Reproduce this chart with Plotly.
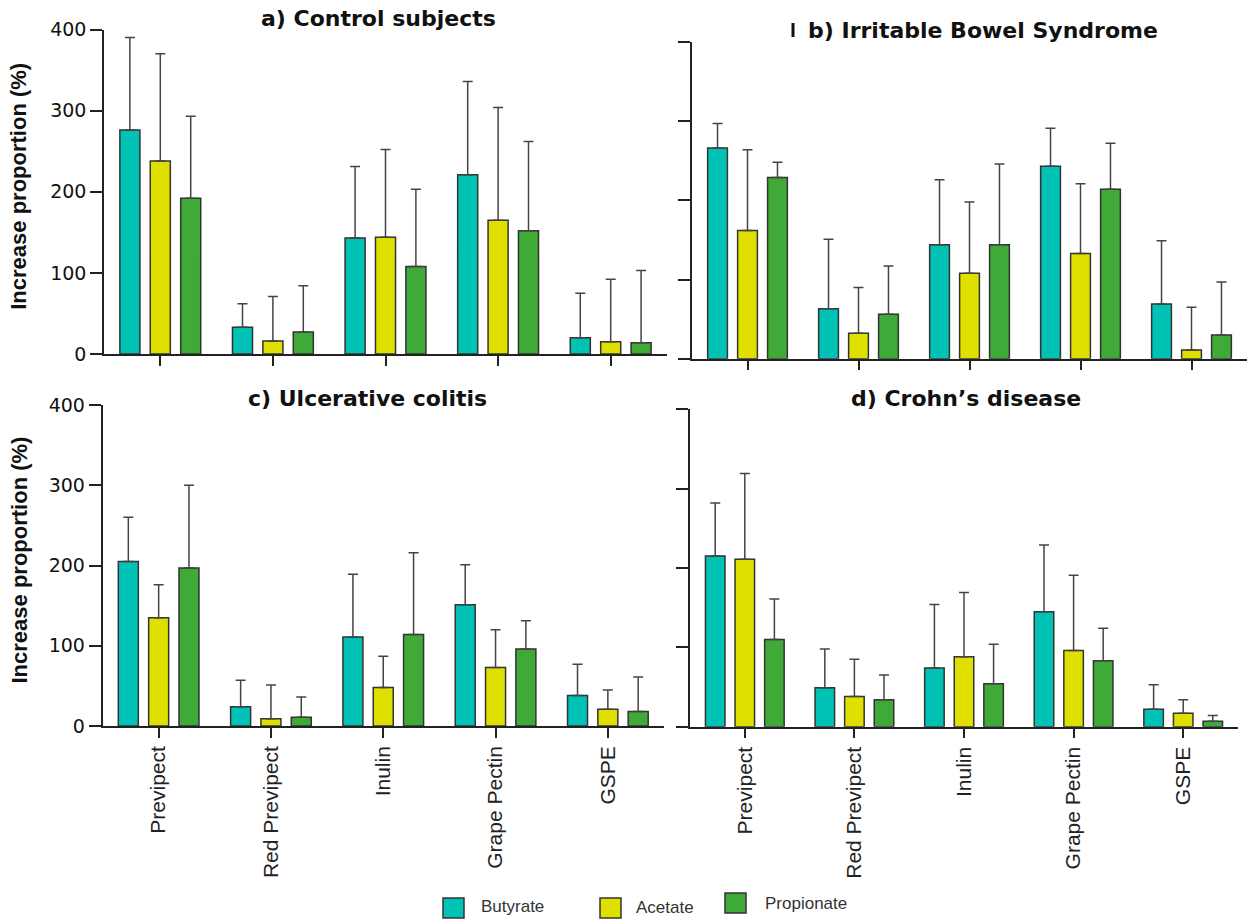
import plotly.graph_objects as go

W, H = 1250, 921

categories = ["Previpect", "Red Previpect", "Inulin", "Grape Pectin", "GSPE"]
acids = ["Butyrate", "Acetate", "Propionate"]
colors = {"Butyrate": "#00C3B6", "Acetate": "#E0E000", "Propionate": "#3FAA38"}

# a) Control subjects: mean increase (%) and upper SD
control_mean = {
    "Butyrate": [276, 33, 143, 221, 20],
    "Acetate": [238, 16, 144, 165, 15],
    "Propionate": [192, 27, 108, 152, 14],
}
control_sd = {
    "Butyrate": [114, 29, 88, 115, 55],
    "Acetate": [132, 55, 108, 139, 77],
    "Propionate": [101, 57, 95, 110, 89],
}

# b) Irritable Bowel Syndrome
ibs_mean = {
    "Butyrate": [266, 63, 144, 243, 69],
    "Acetate": [162, 32, 108, 133, 11],
    "Propionate": [229, 56, 144, 214, 30],
}
ibs_sd = {
    "Butyrate": [31, 88, 82, 48, 80],
    "Acetate": [102, 58, 90, 88, 54],
    "Propionate": [19, 61, 102, 58, 67],
}

# c) Ulcerative colitis
uc_mean = {
    "Butyrate": [205, 24, 111, 151, 38],
    "Acetate": [135, 9, 48, 73, 21],
    "Propionate": [197, 11, 114, 96, 18],
}
uc_sd = {
    "Butyrate": [55, 33, 78, 50, 39],
    "Acetate": [41, 42, 39, 47, 24],
    "Propionate": [103, 25, 102, 35, 43],
}

# d) Crohn's disease
cd_mean = {
    "Butyrate": [215, 49, 74, 145, 22],
    "Acetate": [211, 38, 88, 96, 17],
    "Propionate": [110, 34, 54, 83, 7],
}
cd_sd = {
    "Butyrate": [67, 49, 80, 84, 31],
    "Acetate": [108, 47, 81, 95, 17],
    "Propionate": [51, 31, 50, 41, 7],
}

y_ticks = [0, 100, 200, 300, 400]


def px_x(x):
    return x / W


def px_y(y):
    return 1 - y / H


# panel geometry in pixels: (x0, x1, y_top, y_bottom)
panels = [
    ("a) Control subjects", control_mean, control_sd, (104, 667, 29.5, 354), (378, 18), True, False),
    ("b) Irritable Bowel Syndrome", ibs_mean, ibs_sd, (692, 1247, 42, 358.7), (983, 30), False, False),
    ("c) Ulcerative colitis", uc_mean, uc_sd, (102.5, 664, 405, 726), (367, 398), True, True),
    ("d) Crohn\u2019s disease", cd_mean, cd_sd, (690, 1238, 409.3, 726.7), (966, 398), False, True),
]

fig = go.Figure()
annotations = []
shapes = []
layout_axes = {}

AXIS_COLOR = "#222222"
tick_font = dict(family="DejaVu Sans", size=19, color="#111111")
cat_font = dict(family="Liberation Sans, Arial", size=21, color="#222222")

for i, (title, means, sds, (x0, x1, yt, yb), (tx, ty), show_y, show_x) in enumerate(panels):
    n = "" if i == 0 else str(i + 1)
    xa, ya = "x" + n, "y" + n
    for acid in acids:
        fig.add_trace(go.Bar(
            x=categories,
            y=means[acid],
            name=acid,
            showlegend=False,
            xaxis=xa,
            yaxis=ya,
            marker=dict(color=colors[acid], line=dict(color="#333333", width=1.5)),
            error_y=dict(
                type="data",
                symmetric=False,
                array=sds[acid],
                arrayminus=[0] * len(categories),
                color="#444444",
                thickness=1.5,
                width=5,
            ),
        ))
    layout_axes["xaxis" + n] = dict(
        domain=[px_x(x0), px_x(x1)],
        anchor=ya,
        type="category",
        categoryorder="array",
        categoryarray=categories,
        range=[-0.5, 4.5],
        showline=True,
        linecolor=AXIS_COLOR,
        linewidth=1.5,
        ticks="outside",
        ticklen=10,
        tickwidth=1.5,
        tickcolor=AXIS_COLOR,
        showgrid=False,
        zeroline=False,
        showticklabels=show_x,
        tickangle=-90,
        tickfont=cat_font,
        automargin=False,
        fixedrange=True,
    )
    layout_axes["yaxis" + n] = dict(
        domain=[px_y(yb), px_y(yt)],
        anchor=xa,
        range=[0, 400],
        tickvals=y_ticks,
        showline=True,
        linecolor=AXIS_COLOR,
        linewidth=1.5,
        ticks="outside",
        ticklen=12,
        tickwidth=1.5,
        tickcolor=AXIS_COLOR,
        showgrid=False,
        zeroline=False,
        showticklabels=show_y,
        tickfont=tick_font,
        automargin=False,
        fixedrange=True,
    )
    annotations.append(dict(
        text="<b>%s</b>" % title,
        x=px_x(tx), y=px_y(ty), xref="paper", yref="paper",
        xanchor="center", yanchor="middle", showarrow=False,
        font=dict(family="DejaVu Sans", size=22, color="#111111"),
    ))
    if show_y:
        annotations.append(dict(
            text="<b>Increase proportion (%)</b>",
            x=px_x(19), y=px_y((yt + yb) / 2 - 5), xref="paper", yref="paper",
            xanchor="center", yanchor="middle", textangle=-90, showarrow=False,
            font=dict(family="Liberation Sans, Arial", size=22, color="#111111"),
        ))

# small vertical mark beside the IBS panel heading
shapes.append(dict(type="line", xref="paper", yref="paper",
                   x0=px_x(793), x1=px_x(793), y0=px_y(23), y1=px_y(37),
                   line=dict(color="#111111", width=3)))

# legend swatches and labels
legend_items = [
    ("Butyrate", 443, 898, 479, 906),
    ("Acetate", 600, 898, 634, 907),
    ("Propionate", 725, 893, 763, 903),
]
for acid, sx, sy, lx, ly in legend_items:
    shapes.append(dict(type="rect", xref="paper", yref="paper",
                       x0=px_x(sx), x1=px_x(sx + 21), y0=px_y(sy + 20), y1=px_y(sy),
                       fillcolor=colors[acid], line=dict(color="#333333", width=1.5)))
    annotations.append(dict(
        text=acid, x=px_x(lx), y=px_y(ly), xref="paper", yref="paper",
        xanchor="left", yanchor="middle", showarrow=False,
        font=dict(family="Liberation Sans, Arial", size=17, color="#333333"),
    ))

fig.update_layout(
    width=W,
    height=H,
    margin=dict(l=0, r=0, t=0, b=0, pad=0, autoexpand=False),
    paper_bgcolor="white",
    plot_bgcolor="white",
    barmode="group",
    bargap=0.19,
    bargroupgap=0.34,
    showlegend=False,
    annotations=annotations,
    shapes=shapes,
    **layout_axes,
)

fig.write_html("out.html")
